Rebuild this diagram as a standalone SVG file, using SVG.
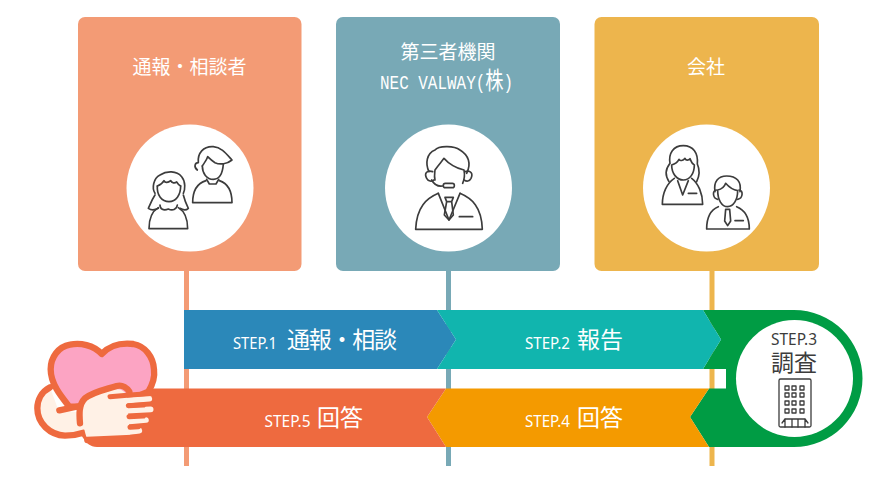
<svg xmlns="http://www.w3.org/2000/svg" width="890" height="480" viewBox="0 0 890 480">
<style>
text{font-family:"Noto Sans CJK JP","Liberation Sans",sans-serif;fill:#fff;text-anchor:middle}
.t{font-size:19px}
.s{font-size:16px;font-family:"Noto Sans",sans-serif}
.b{font-size:23px}
.d{fill:#3c3c3c}
.i{fill:none;stroke:#3c3c3c;stroke-width:5;stroke-linejoin:round;stroke-linecap:round}
.h{stroke:#ee6a3f;stroke-width:19;stroke-linejoin:round;stroke-linecap:round;fill:none}
.p{fill:#fff1e6}
</style>
<rect width="890" height="480" fill="#fff"/>
<g id="connectors">
<rect x="184" y="271" width="5" height="195" fill="#f39b75"/>
<rect x="446" y="271" width="5" height="195" fill="#78a9b6"/>
<rect x="709.500" y="271" width="5" height="195" fill="#edb54d"/>
</g>
<g id="node-reporter">
<rect x="78" y="17" width="223.500" height="254" rx="7" fill="#f39b75"/>
<text class="t" x="189.500" y="74">通報・相談者</text>
<circle cx="190" cy="188" r="63.500" fill="#fff"/>
<g class="i" transform="translate(140 140) scale(.3333)">
<path d="M172 90C160 80 165 68 175 68C172 40 190 18 220 20C245 22 258 40 276 60C262 72 240 75 225 68C215 62 208 55 203 50C200 62 190 72 187 78"/>
<path d="M187 78C187 100 200 118 220 118C238 118 248 100 250 72"/>
<path d="M200 118l8 14h20l8-14"/>
<path d="M198 122C172 130 158 150 158 188H276C276 150 262 130 238 122"/>
<path d="M45 160C35 145 40 115 60 105C80 92 110 92 125 110C138 125 135 150 130 160"/>
<path d="M52 138C60 135 68 130 72 122C75 130 85 128 92 122C95 130 105 130 110 126C113 132 118 136 122 138"/>
<path d="M52 138C50 165 65 185 87 185C108 185 122 165 122 138"/>
<path d="M45 165C35 180 30 195 25 205C35 212 45 210 55 205M130 165C135 185 140 195 145 205C138 212 128 210 120 205"/>
<path d="M60 195c0 12 10 18 25 12c12 6 25 2 27-12"/>
<path d="M55 203C35 215 27 235 27 266H143C143 235 135 215 115 203"/>
</g>
</g>
<g id="node-third-party">
<rect x="336" y="17" width="224" height="254" rx="7" fill="#78a9b6"/>
<text class="t" x="448" y="59">第三者機関</text>
<text transform="translate(380 88.500) scale(.76 1)" style="text-anchor:start;font-family:'Liberation Mono','Noto Sans CJK JP',monospace;font-size:21px">NEC VALWAY(<tspan style="font-size:24px;font-family:'Noto Sans CJK JP',sans-serif">株</tspan>)</text>
<circle cx="448.500" cy="188" r="63.500" fill="#fff"/>
<g class="i" transform="translate(410 140) scale(.3333)">
<path d="M57 95C45 70 50 40 75 30C85 18 130 15 150 30C175 45 185 70 170 100"/>
<path d="M75 120C72 110 74 100 75 90C85 75 95 65 102 55C115 70 140 85 162 90C165 105 163 118 158 130"/>
<path d="M68 95C50 90 42 100 50 115C55 125 65 125 72 120M165 95C182 90 190 100 183 115C178 125 170 125 162 120"/>
<path d="M65 120C72 133 85 140 98 138"/>
<rect x="100" y="130" width="33" height="13" rx="6"/>
<path d="M85 160C50 175 20 200 17 268H217C215 200 185 175 150 160"/>
<path d="M85 160L117 240L150 160"/>
<path d="M105 172h25l-5 13h-15zM110 185L103 225L117 240L130 225L125 185"/>
<path d="M148 230H188"/>
</g>
</g>
<g id="node-company">
<rect x="594.500" y="17" width="224.500" height="254" rx="7" fill="#edb54d"/>
<text class="t" x="706" y="74">会社</text>
<circle cx="706.500" cy="188" r="63.500" fill="#fff"/>
<g class="i" transform="translate(655 140) scale(.3333)">
<path d="M45 70C40 40 55 17 85 17C115 17 130 40 127 72C135 90 135 105 125 125M45 70C30 90 30 105 42 125"/>
<path d="M50 75C60 72 68 66 72 58C75 64 85 62 90 55C93 62 100 62 105 56C108 64 112 72 118 75C118 100 105 120 85 120C65 120 50 100 50 75Z"/>
<path d="M58 115C35 130 22 160 22 193H143C143 160 130 130 110 115"/>
<path d="M68 122L83 165L100 122M100 160H125"/>
<path d="M180 155C175 125 190 108 215 108C245 108 260 125 255 155"/>
<path d="M188 150C200 148 208 142 212 130C225 145 235 150 248 152C248 180 235 200 218 200C200 200 188 180 188 150Z"/>
<path d="M184 150C172 150 172 175 188 178M252 150C265 150 265 175 248 178"/>
<path d="M190 200C165 210 155 235 155 267H283C283 235 270 210 245 200"/>
<path d="M212 208h12l3 35l-9 14l-9-14zM240 242H265"/>
</g>
</g>
<g id="node-step3">
<path d="M703 310H794a68.500 68.500 0 0 1 0 137H709L690 417 709 388.500H726V369H703L721 339.500Z" fill="#009c44"/>
<circle cx="794.500" cy="378.500" r="58.500" fill="#fff"/>
<text class="s d" x="794" y="344.500" textLength="46" lengthAdjust="spacingAndGlyphs">STEP.3</text>
<text class="b d" x="794" y="371">調査</text>
<g class="i" style="stroke-width:1.300">
<rect x="779" y="379" width="32" height="48" rx="1.500"/>
<path d="M785 386h4v4h-4zM792 386h4v4h-4zM800 386h4v4h-4zM785 393h4v4h-4zM792 393h4v4h-4zM800 393h4v4h-4zM785 401h4v4h-4zM792 401h4v4h-4zM800 401h4v4h-4zM785 409h4v4h-4zM792 409h4v4h-4zM800 409h4v4h-4zM785 427v-8h20v8M785 419l-3 4M805 419l3 4M792 419v8M798 419v8"/>
</g>
</g>
<g id="node-step1">
<path d="M184 310H437L456 339.500 437 369H184Z" fill="#2b88b9"/>
<text class="s" x="255" y="349" textLength="44" lengthAdjust="spacingAndGlyphs">STEP.1</text>
<text class="b" x="342" y="348" textLength="110">通報・相談</text>
</g>
<g id="node-step2">
<path d="M437 310H703L721 339.500 703 369H437L456 339.500Z" fill="#11b5ae"/>
<text class="s" x="547.500" y="349" textLength="45" lengthAdjust="spacingAndGlyphs">STEP.2</text>
<text class="b" x="600" y="348">報告</text>
</g>
<g id="node-step4">
<path d="M446 388.500H709L690 417 709 447H446L427 417Z" fill="#f49a00"/>
<text class="s" x="547.500" y="427" textLength="45" lengthAdjust="spacingAndGlyphs">STEP.4</text>
<text class="b" x="600" y="426">回答</text>
</g>
<g id="node-step5">
<path d="M130 388.500H446L427 417 446 447H97C90 447 86 443 83 436L125 420Z" fill="#ee6a3f"/>
<text class="s" x="287.500" y="427" textLength="46" lengthAdjust="spacingAndGlyphs">STEP.5</text>
<text class="b" x="340" y="426">回答</text>
</g>
<g id="node-heart" transform="translate(30 340) scale(.3333)">
<path class="p" d="M60 142C35 155 22 180 22 205C22 250 60 285 105 287C125 287 145 283 165 278L170 220L85 210Z"/>
<path class="h" d="M60 142C35 155 22 180 22 205C22 250 60 285 105 287C125 287 145 283 160 278L175 300"/>
<path class="h" style="fill:#fca4c3" d="M215 42C190 14 150 8 120 14C85 20 62 52 62 88C62 130 90 165 118 200L250 200L355 155C370 130 375 110 372 88C370 50 345 18 310 12C275 8 240 15 215 42Z"/>
<path class="p" d="M150 200C165 165 200 160 258 148C272 146 282 152 290 165L300 290L172 296C165 285 165 265 155 250Z"/>
<path class="h" d="M88 211L150 198"/>
<path d="M285 182L358 176M290 212L362 208M290 245L348 240M290 277L328 272" fill="none" stroke="#fff1e6" stroke-width="17" stroke-linecap="round"/>
<path class="h" d="M150 250C148 225 145 195 165 175C190 155 230 148 260 138C278 133 292 145 298 155"/>
<path class="h" style="stroke-width:15" d="M240 170L300 165L375 160M295 197L340 195M297 230L340 228M300 262L325 260"/>
<path class="h" d="M172 300L340 292"/>
</g>
</svg>
